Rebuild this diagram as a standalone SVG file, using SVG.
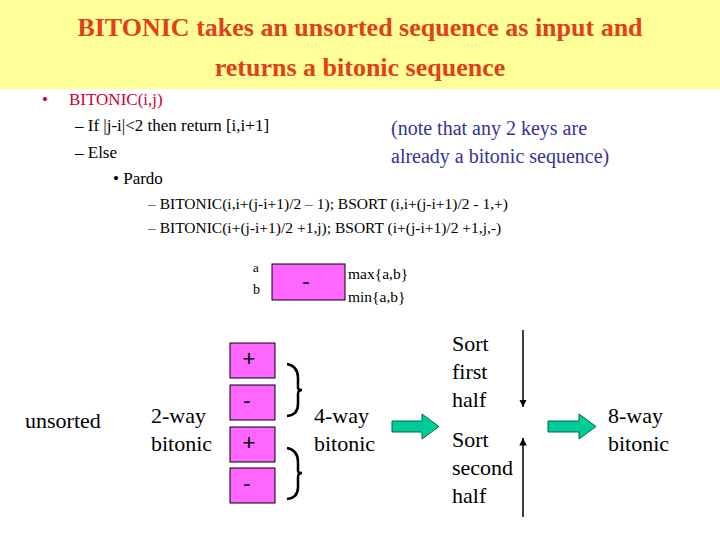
<svg xmlns="http://www.w3.org/2000/svg" width="720" height="540" viewBox="0 0 720 540" font-family="'Liberation Serif', 'Times New Roman', Tinos, 'DejaVu Serif', serif">
<style>
text{font-family:'Liberation Serif','Times New Roman',Tinos,'DejaVu Serif',serif;fill:#000}
.t{font-size:26px;font-weight:bold;fill:#E0401A;text-anchor:middle}
.b{font-size:17px}
.s{font-size:15.5px}
.n{font-size:20px;fill:#333399}
.m{font-size:22px}
.box{fill:#FF66FF;stroke:#000;stroke-width:1}
.op{font-family:'Liberation Sans',Arial,sans-serif;font-size:22px;text-anchor:middle}
.g{fill:#00CC99;stroke:#006644;stroke-width:1}
</style>
<defs><marker id="ah" viewBox="0 0 10 10" refX="10" refY="5" markerWidth="5" markerHeight="6" orient="auto"><path d="M0,0L10,5L0,10z" fill="#000"/></marker></defs>
<rect x="0" y="0" width="720" height="89" fill="#FFFF99"/>
<text class="t" x="360" y="36">BITONIC takes an unsorted sequence as input and</text>
<text class="t" x="360" y="76">returns a bitonic sequence</text>
<text class="b" x="42" y="105" style="fill:#CC0033">•</text>
<text class="b" x="69" y="105" style="fill:#CC0033">BITONIC(i,j)</text>
<text class="b" x="75" y="131">–  If |j-i|&lt;2 then return [i,i+1]</text>
<text class="b" x="75" y="158">–  Else</text>
<text class="b" x="113" y="184">•  Pardo</text>
<text class="s" x="148" y="209">–  BITONIC(i,i+(j-i+1)/2 – 1); BSORT (i,i+(j-i+1)/2 - 1,+)</text>
<text class="s" x="148" y="233">–  BITONIC(i+(j-i+1)/2 +1,j); BSORT (i+(j-i+1)/2 +1,j,-)</text>
<text class="n" x="391" y="135">(note that any 2 keys are</text>
<text class="n" x="391" y="163">already a bitonic sequence)</text>
<g id="cmp">
<rect class="box" x="272" y="264" width="73" height="36"/>
<text class="op" x="306" y="289">-</text>
<text x="253" y="272" style="font-size:13px">a</text>
<text x="253" y="294" style="font-size:14px">b</text>
<text x="348" y="279" class="s">max{a,b}</text>
<text x="348" y="302" class="s">min{a,b}</text>
</g>
<g id="boxes">
<rect class="box" x="230" y="343" width="45" height="35"/><text class="op" x="249" y="366">+</text>
<rect class="box" x="230" y="385" width="45" height="35"/><text class="op" x="247" y="408">-</text>
<rect class="box" x="230" y="427" width="45" height="35"/><text class="op" x="249" y="450">+</text>
<rect class="box" x="230" y="468" width="45" height="35"/><text class="op" x="247" y="491">-</text>
</g>
<g id="braces" fill="none" stroke="#000" stroke-width="2.5">
<path d="M287,364 Q298,366 298,378 L298,388 Q298,390 302,390 Q298,390 298,394 L298,404 Q298,415 287,416"/>
<path d="M287,448 Q298,450 298,462 L298,471 Q298,473 302,473 Q298,473 298,477 L298,487 Q298,498 287,499"/>
</g>
<g id="labels">
<text class="m" x="25" y="428">unsorted</text>
<text class="m" x="151" y="423">2-way</text>
<text class="m" x="151" y="451">bitonic</text>
<text class="m" x="314" y="423">4-way</text>
<text class="m" x="314" y="451">bitonic</text>
<text class="m" x="608" y="423">8-way</text>
<text class="m" x="608" y="451">bitonic</text>
<text class="m" x="452" y="351">Sort</text>
<text class="m" x="452" y="379">first</text>
<text class="m" x="452" y="407">half</text>
<text class="m" x="452" y="447">Sort</text>
<text class="m" x="452" y="475">second</text>
<text class="m" x="452" y="503">half</text>
</g>
<g id="connectors">
<path class="g" d="M392,421 H422 V414 L439,426.5 L422,439 V432 H392 Z"/>
<path class="g" d="M548,421 H579 V414 L596,426.5 L579,439 V432 H548 Z"/>
<line x1="523" y1="330" x2="523" y2="407" stroke="#000" stroke-width="1.5" marker-end="url(#ah)"/>
<line x1="523" y1="517" x2="523" y2="438" stroke="#000" stroke-width="1.5" marker-end="url(#ah)"/>
</g>
</svg>
